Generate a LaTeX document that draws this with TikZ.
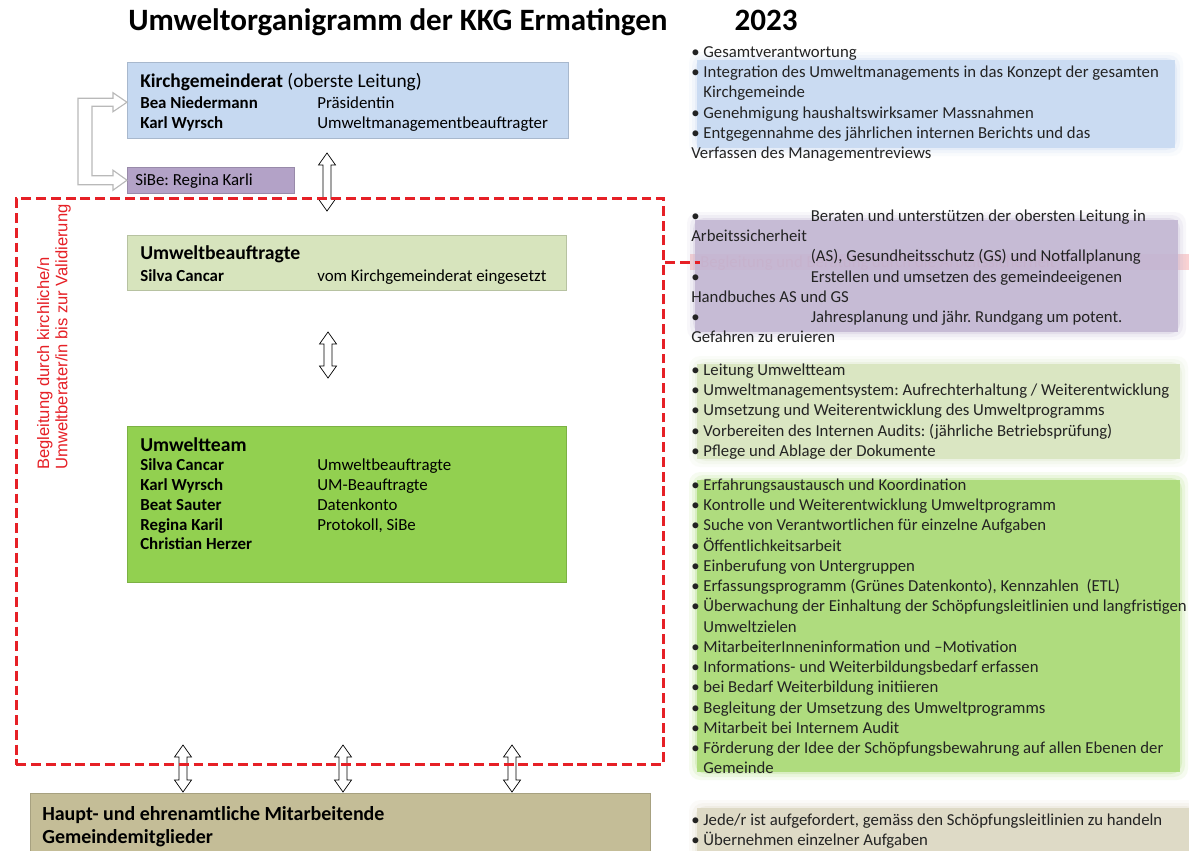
\documentclass[tikz,border=0pt]{standalone}
\usepackage{fontspec}
\setmainfont{Carlito}
\newfontfamily\arialfont{Liberation Sans}
\usetikzlibrary{calc}
\frenchspacing

\definecolor{kgrblue}{RGB}{198,217,241}
\definecolor{sibelila}{RGB}{179,162,199}
\definecolor{ublight}{RGB}{215,228,189}
\definecolor{teamgreen}{RGB}{146,208,80}
\definecolor{basistan}{RGB}{196,189,151}
\definecolor{kred}{RGB}{230,32,38}
\definecolor{ink}{RGB}{35,35,35}

\newcommand{\pname}[1]{\makebox[125.9pt][l]{\textbf{#1}}}
\newcommand{\bul}{\textbullet\ }
\newcommand{\topstrut}{\rule{0pt}{12pt}}

\tikzset{
	orgbox/.style={rectangle, fill=#1, draw=#1!85!black, line width=0.3pt, anchor=north west, inner sep=0pt},
	boxtext/.style={anchor=north west, yshift=12pt, align=left, inner sep=0pt, text=black, font=\fontsize{12}{14}\selectfont},
	listtext/.style={anchor=north west, yshift=12pt, align=left, inner sep=0pt, text=ink, font=\fontsize{11.9}{14.4}\selectfont},
	dblarrow/.style={draw=black, fill=white, line width=0.5pt, line join=miter},
	frame/.style={draw=kred, line width=2pt, dash pattern=on 7pt off 3.5pt},
	hollow/.style={draw=gray!55, fill=white, line width=0.8pt, line join=miter},
}

\begin{document}
\begin{tikzpicture}[x=0.025cm, y=-0.025cm]
	\fill[white] (0,0) rectangle (1189,850);
	\useasboundingbox (0,0) rectangle (1189,850);

	% title
	\node[anchor=base, font=\fontsize{22.1}{25}\selectfont\bfseries] (title) at (398,30) {Umweltorganigramm der KKG Ermatingen};
	\node[anchor=base, font=\fontsize{22.1}{25}\selectfont\bfseries] (year) at (766,30) {2023};

	% right column
	\fill[kred, opacity=0.2] (690,254) rectangle (1189,270);
	\node[anchor=base west, inner sep=0pt, text=kred!45, font=\fontsize{11.9}{14.4}\selectfont] (asbgl) at (700,267) {Begleitung und Beratung durch die Arbeitssicherheit};
	\foreach \c/\xa/\ya/\xb/\yb in {kgrblue/697/60/1175/148, sibelila!80/695/220/1178/332, ublight/697/364/1180/459, teamgreen!80/697/480/1180/772, basistan!60/697/808/1195/860}{
		\foreach \e/\o in {8/0.1, 5/0.15, 2/0.25}
			\fill[\c, opacity=\o, rounded corners=8] (\xa-\e,\ya-\e) rectangle (\xb+\e,\yb+\e);
		\fill[\c, opacity=0.85] (\xa,\ya) rectangle (\xb,\yb);
	}

	\node[listtext] (kgrlist) at (691,57) {\topstrut\bul Gesamtverantwortung\\
		\bul Integration des Umweltmanagements in das Konzept der gesamten\\
		\phantom{\bul}Kirchgemeinde\\
		\bul Genehmigung haushaltswirksamer Massnahmen\\
		\bul Entgegennahme des jährlichen internen Berichts und das\\
		Verfassen des Managementreviews};
	\node[listtext] (sibelist) at (691,221) {\topstrut\makebox[85pt][l]{\textbullet}Beraten und unterstützen der obersten Leitung in\\
		Arbeitssicherheit\\
		\hspace*{85pt}(AS), Gesundheitsschutz (GS) und Notfallplanung\\
		\makebox[85pt][l]{\textbullet}Erstellen und umsetzen des gemeindeeigenen\\
		Handbuches AS und GS\\
		\makebox[85pt][l]{\textbullet}Jahresplanung und jähr. Rundgang um potent.\\
		Gefahren zu eruieren};
	\node[listtext] (ublist) at (691,375) {\topstrut\bul Leitung Umweltteam\\
		\bul Umweltmanagementsystem: Aufrechterhaltung / Weiterentwicklung\\
		\bul Umsetzung und Weiterentwicklung des Umweltprogramms\\
		\bul Vorbereiten des Internen Audits: (jährliche Betriebsprüfung)\\
		\bul Pflege und Ablage der Dokumente};
	\node[listtext] (teamlist) at (691,490) {\topstrut\bul Erfahrungsaustausch und Koordination\\
		\bul Kontrolle und Weiterentwicklung Umweltprogramm\\
		\bul Suche von Verantwortlichen für einzelne Aufgaben\\
		\bul Öffentlichkeitsarbeit\\
		\bul Einberufung von Untergruppen\\
		\bul Erfassungsprogramm (Grünes Datenkonto), Kennzahlen~ (ETL)\\
		\bul Überwachung der Einhaltung der Schöpfungsleitlinien und langfristigen\\
		\phantom{\bul}Umweltzielen\\
		\bul MitarbeiterInneninformation und –Motivation\\
		\bul Informations- und Weiterbildungsbedarf erfassen\\
		\bul bei Bedarf Weiterbildung initiieren\\
		\bul Begleitung der Umsetzung des Umweltprogramms\\
		\bul Mitarbeit bei Internem Audit\\
		\bul Förderung der Idee der Schöpfungsbewahrung auf allen Ebenen der\\
		\phantom{\bul}Gemeinde};
	\node[listtext] (basislist) at (691,825) {\topstrut\bul Jede/r ist aufgefordert, gemäss den Schöpfungsleitlinien zu handeln\\
		\bul Übernehmen einzelner Aufgaben};

	% left boxes
	\node[orgbox=kgrblue, minimum width=11.025cm, minimum height=1.9cm] (kgr) at (127,62) {};
	\node[orgbox=sibelila, minimum width=4.175cm, minimum height=0.65cm] (sibe) at (127,167) {};
	\node[orgbox=ublight, minimum width=10.975cm, minimum height=1.375cm] (ub) at (127,235) {};
	\node[orgbox=teamgreen, minimum width=10.975cm, minimum height=3.9cm] (team) at (127,426) {};
	\node[orgbox=basistan, minimum width=15.5cm, minimum height=1.6cm] (basis) at (30,793) {};

	\node[boxtext] (kgrtxt) at (140,87) {\topstrut{\fontsize{13.8}{15}\selectfont\textbf{Kirchgemeinderat} (oberste Leitung)}\\[1pt]
		\pname{Bea Niedermann}Präsidentin\\
		\pname{Karl Wyrsch}Umweltmanagementbeauftragter};
	\node[boxtext] (sibetxt) at (135,185) {\topstrut SiBe: Regina Karli};
	\node[boxtext] (ubtxt) at (140,259) {\topstrut{\fontsize{14}{15}\selectfont\textbf{Umweltbeauftragte}}\\[2pt]
		\pname{Silva Cancar}vom Kirchgemeinderat eingesetzt};
	\node[boxtext] (teamtxt) at (140,451) {\topstrut{\fontsize{14}{15}\selectfont\textbf{Umweltteam}}\\
		\pname{Silva Cancar}Umweltbeauftragte\\
		\pname{Karl Wyrsch}UM-Beauftragte\\
		\pname{Beat Sauter}Datenkonto\\
		\pname{Regina Karil}Protokoll, SiBe\\
		\pname{Christian Herzer}};
	\node[boxtext, font=\fontsize{14.2}{16.4}\selectfont\bfseries] (basistxt) at (42,820) {\topstrut Haupt- und ehrenamtliche Mitarbeitende\\Gemeindemitglieder};

	% hollow arrow to kgr and sibe
	\coordinate (ktip) at ($(kgr.west)+(0,2)$);
	\coordinate (stip) at (sibe.west);
	\draw[hollow] (ktip) -- ($(ktip)+(-14,-9.5)$) -- ($(ktip)+(-14,-4)$) -- ($(ktip)+(-49,-4)$)
		-- ($(stip)+(-49,4.5)$) -- ($(stip)+(-14,4.5)$) -- ($(stip)+(-14,10)$) -- (stip)
		-- ($(stip)+(-14,-10)$) -- ($(stip)+(-14,-4.5)$) -- ($(stip)+(-35,-4.5)$)
		-- ($(ktip)+(-35,4)$) -- ($(ktip)+(-14,4)$) -- ($(ktip)+(-14,9.5)$) -- cycle;

	% double arrows
	\foreach \x/\ya/\yb in {327/153/211, 328/332/378, 183/745/792, 343/745/792, 512/745/792}
		\draw[dblarrow] (\x,\ya) -- (\x+8.5,\ya+12) -- (\x+4,\ya+12) -- (\x+4,\yb-12) -- (\x+8.5,\yb-12) -- (\x,\yb)
			-- (\x-8.5,\yb-12) -- (\x-4,\yb-12) -- (\x-4,\ya+12) -- (\x-8.5,\ya+12) -- cycle;

	% red frame
	\node[frame, anchor=north west, minimum width=16.175cm, minimum height=14.15cm, inner sep=0pt] (begl) at (15,197) {};
	\node[rotate=90, anchor=west, align=left, inner sep=0pt, text=kred, font=\arialfont\fontsize{11.8}{13}\selectfont] (begltxt) at (54,470) {Begleitung durch kirchliche/n\\Umweltberater/in bis zur Validierung};
	\draw[kred, line width=2pt, dash pattern=on 7pt off 3.5pt] (begl.east |- asbgl.west) -- (asbgl.west);
\end{tikzpicture}
\end{document}
